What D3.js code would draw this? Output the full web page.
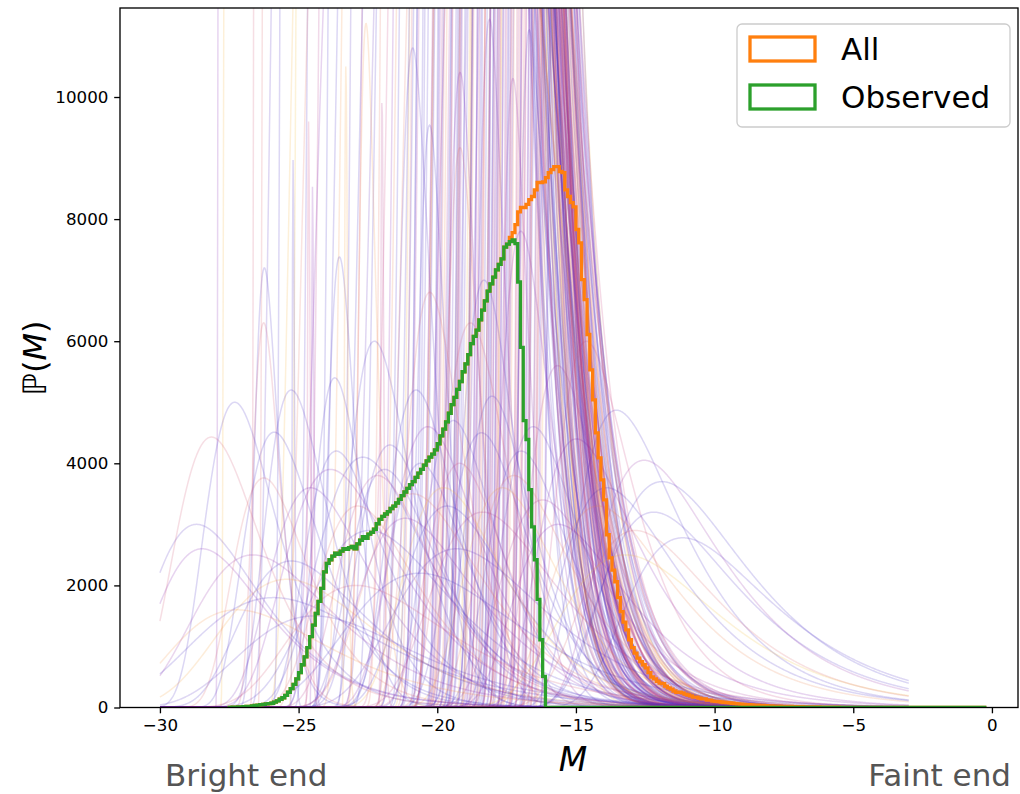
<!DOCTYPE html>
<html>
<head>
<meta charset="utf-8">
<title>Magnitude distribution</title>
<script src="https://d3js.org/d3.v7.min.js"></script>
<style>
  body { margin: 0; background: #fff; }
  svg text { font-family: "DejaVu Sans", sans-serif; }
</style>
</head>
<body>
<div id="chart"></div>
<script>
// histogram bins in absolute magnitude M
var binStart = -27.5, binWidth = 0.1, binEnd = -0.2;

// counts per bin, starting at binStart (missing bins are empty)
var observedCounts = [
  3, 5, 6, 8, 10, 12, 16, 20, 26, 34, 40, 46, 52, 58, 64,
  70, 88, 110, 135, 160, 200, 250, 310, 380, 470,
  570, 700, 830, 980, 1160, 1350, 1540, 1740, 1950, 2220,
  2360, 2420, 2480, 2530, 2510, 2560, 2600, 2590, 2620, 2640,
  2600, 2680, 2740, 2800, 2770, 2840, 2870, 2920, 3010, 3080,
  3130, 3170, 3210, 3260, 3300, 3350, 3410, 3470, 3530, 3590,
  3650, 3700, 3770, 3840, 3900, 3970, 4040, 4100, 4150, 4220,
  4320, 4450, 4560, 4680, 4820, 4960, 5080, 5210, 5340, 5500,
  5630, 5780, 5960, 6080, 6180, 6350, 6510, 6660, 6820, 6940,
  7050, 7170, 7260, 7350, 7540, 7590, 7630, 7660, 7600,
  6970, 5900, 4700, 4390, 3570, 2960, 2420, 1770, 1110, 510
];
var allCounts = [
  3, 5, 6, 8, 10, 12, 16, 20, 26, 34, 40, 46, 52, 58, 64,
  70, 88, 110, 135, 160, 200, 250, 310, 380, 470,
  570, 700, 830, 980, 1160, 1350, 1540, 1740, 1950, 2220,
  2360, 2420, 2480, 2530, 2510, 2560, 2600, 2590, 2620, 2640,
  2600, 2680, 2740, 2800, 2770, 2840, 2870, 2920, 3010, 3080,
  3130, 3170, 3210, 3260, 3300, 3350, 3410, 3470, 3530, 3590,
  3650, 3700, 3770, 3840, 3900, 3970, 4040, 4100, 4150, 4220,
  4320, 4450, 4560, 4680, 4820, 4960, 5080, 5210, 5340, 5500,
  5630, 5780, 5960, 6080, 6180, 6350, 6510, 6660, 6820, 6940,
  7050, 7170, 7260, 7350, 7540, 7590,
  7700, 7780, 7910, 8120, 8190, 8190, 8240, 8320, 8370, 8480,
  8600, 8600, 8610, 8680, 8760, 8810, 8860, 8860, 8780, 8760,
  8480, 8370, 8270, 8200, 7830, 7610, 7010, 6680, 6110, 5530,
  5040, 4500, 4090, 3730, 3400, 2830, 2450, 2250, 2060, 1800,
  1570, 1400, 1270, 1110, 980, 890, 810, 750, 700, 650,
  570, 500, 470, 430, 400, 390, 350, 320, 300, 270,
  250, 250, 240, 220, 205, 190, 170, 170, 155, 140,
  140, 120, 120, 105, 100, 95, 90, 85, 80, 75,
  70, 65, 60, 55, 50, 48, 45, 42, 40, 38,
  35, 33, 30, 28, 26, 24, 22, 21, 20, 18,
  17, 16, 15, 14, 13, 12, 11, 10, 10, 9,
  8, 8, 7, 6, 6, 5, 5, 4, 4, 3, 3, 3, 2, 2
];
var seriesNames = ["All", "Observed"];

// faint model curves: bright-end rise, faint-end fall, peak height, colour tone
var curveRange = [-30, -3];
var curveRise = [
  // tall curves
  -27.9, -27.7, -26.6, -26.3, -25.6, -25.1, -24.6, -24.2, -23.8, -23.4,
  -23.0, -22.6, -22.2, -21.9, -21.5, -21.2, -20.9, -20.6, -20.3, -20.0,
  -19.8, -19.5, -19.3, -19.0, -18.8, -18.6, -18.4, -18.2, -18.0, -17.8,
  -17.6, -17.4, -17.2, -17.0, -16.8, -16.6, -16.4, -16.2, -16.0, -18.5,
  -19.9, -22.8, -24.9, -17.9, -16.9,
  -21.0, -20.8, -20.5, -20.2, -19.9, -19.7, -19.6, -19.4, -19.2, -19.1,
  -18.9, -18.7, -18.6, -18.5, -18.3, -18.1, -17.9, -17.8, -17.7, -17.5,
  -17.45, -17.3, -17.2, -17.1, -16.95, -16.85, -16.7, -16.55, -16.45, -16.3,
  -16.25, -16.15, -16.05, -17.65, -18.25, -18.95, -19.55, -20.05, -21.3, -22.4,
  -23.6, -24.4, -25.3, -26.0, -21.7, -20.7, -19.0, -17.15, -16.5, -17.95,
  -20.4, -20.1, -19.85, -19.65, -19.45, -19.3, -19.15, -18.95, -18.8, -18.65,
  -18.55, -18.45, -18.35, -18.15, -18.05, -17.95, -17.85, -17.75, -17.6, -17.55,
  -17.4, -17.35, -17.25, -17.05, -16.9, -16.8, -16.75, -16.6, -16.4, -16.35,
  -19.95, -19.75, -19.05, -18.75, -18.05, -17.7, -17.0, -16.65, -20.6, -21.4,
  // peaked curves
  -26.49, -26.54, -25.22, -24.67, -24.52, -23.81, -24.27, -18.40, -16.94, -19.45,
  -22.73, -20.56, -19.52, -17.56, -21.23, -22.02, -23.32,
  // broad curves
  -28.02, -28.93, -26.74, -27.04, -29.79, -28.01, -26.63, -27.35, -25.72,
  -23.79, -23.18, -22.56, -22.13, -21.23, -20.77, -19.96, -19.26, -18.68, -17.89,
  -17.34, -23.81, -25.11, -21.50, -19.47,
  -14.87, -14.10, -13.61, -12.96, -15.68, -16.22, -14.93, -15.54,
  -24.56, -24.02, -22.93, -22.53, -21.46, -20.92, -20.22, -19.80, -18.77, -18.38,
  -17.46, -17.01, -26.70, -28.93, -26.04, -24.63, -22.24, -15.36, -14.47, -13.89,
  -16.52, -18.88, -20.90, -22.95, -17.56, -25.95, -29.59, -20.88
];
var curveRiseWidth = [
  0.04, 0.05, 0.06, 0.08, 0.15, 0.12, 0.25, 0.3, 0.3, 0.35,
  0.3, 0.35, 0.4, 0.3, 0.35, 0.4, 0.3, 0.35, 0.3, 0.4,
  0.3, 0.35, 0.3, 0.3, 0.35, 0.25, 0.3, 0.25, 0.3, 0.2,
  0.25, 0.2, 0.25, 0.2, 0.2, 0.15, 0.2, 0.15, 0.15, 0.45,
  0.5, 0.45, 0.4, 0.3, 0.25,
  0.35, 0.3, 0.4, 0.3, 0.45, 0.3, 0.35, 0.25, 0.4, 0.3,
  0.35, 0.3, 0.25, 0.4, 0.3, 0.35, 0.25, 0.3, 0.2, 0.3,
  0.25, 0.2, 0.3, 0.25, 0.2, 0.25, 0.15, 0.2, 0.15, 0.2,
  0.15, 0.15, 0.12, 0.3, 0.35, 0.4, 0.3, 0.45, 0.4, 0.5,
  0.45, 0.5, 0.4, 0.35, 0.5, 0.45, 0.4, 0.3, 0.25, 0.35,
  0.3, 0.35, 0.25, 0.3, 0.35, 0.3, 0.25, 0.3, 0.35, 0.25,
  0.3, 0.2, 0.3, 0.25, 0.3, 0.2, 0.25, 0.3, 0.2, 0.25,
  0.2, 0.25, 0.2, 0.2, 0.15, 0.2, 0.15, 0.15, 0.12, 0.15,
  0.4, 0.3, 0.35, 0.3, 0.25, 0.2, 0.2, 0.15, 0.35, 0.4,
  0.3, 0.35, 0.03, 0.03, 0.03, 0.35, 0.6, 0.35, 0.3, 0.4,
  0.25, 0.35, 0.4, 0.3, 0.4, 0.04, 0.05,
  1.0, 1.3, 0.9, 1.0, 1.5, 2.0, 2.5, 3.0, 1.2,
  1.5, 1.2, 1.0, 1.5, 1.2, 1.4, 1.1, 1.0, 1.2, 1.0,
  1.3, 2.0, 1.4, 0.9, 0.9,
  1.0, 1.2, 1.5, 1.5, 1.3, 1.0, 2.0, 0.8,
  0.9, 1.2, 1.0, 1.3, 1.0, 1.2, 0.9, 1.5, 0.8, 1.0,
  0.9, 1.2, 1.5, 2.0, 2.5, 2.0, 2.5, 1.2, 1.5, 1.4,
  0.8, 0.7, 0.7, 0.8, 0.6, 0.8, 1.5, 2.0
];
var curveFall = [
  -17.34, -16.29, -17.27, -16.23, -17.51, -16.34, -16.76, -17.04, -17.40, -16.13,
  -17.67, -16.75, -16.73, -16.67, -17.23, -16.95, -16.54, -17.05, -17.14, -16.43,
  -17.43, -16.97, -16.64, -16.96, -17.23, -16.74, -16.87, -17.47, -16.63, -16.55,
  -17.12, -16.67, -16.76, -16.45, -16.50, -16.30, -16.10, -15.90, -15.80, -15.87,
  -16.38, -16.17, -15.98, -16.28, -16.60,
  -17.13, -17.29, -17.31, -15.97, -17.47, -17.04, -16.88, -17.40, -17.40, -15.50,
  -17.99, -16.39, -17.84, -16.53, -17.15, -17.10, -16.91, -16.62, -17.07, -16.77,
  -17.10, -16.58, -16.90, -16.44, -16.65, -16.48, -16.40, -16.25, -16.15, -16.00,
  -15.95, -15.85, -15.80, -16.59, -16.65, -17.29, -16.24, -17.74, -15.85, -15.83,
  -17.23, -15.74, -16.52, -16.28, -17.08, -17.20, -16.87, -16.85, -16.20, -16.42,
  -17.46, -16.62, -17.24, -16.57, -16.93, -16.97, -17.27, -17.71, -16.50, -17.20,
  -17.57, -16.38, -17.24, -16.72, -17.40, -17.16, -16.92, -17.35, -16.82, -16.68,
  -16.93, -16.62, -16.64, -16.70, -16.60, -16.50, -16.45, -16.30, -16.10, -16.05,
  -17.33, -17.11, -17.05, -16.40, -16.93, -16.73, -16.65, -16.35, -16.82, -16.96,
  -26.49, -26.54, -25.22, -24.67, -24.52, -23.81, -24.27, -18.40, -16.94, -19.45,
  -22.73, -20.56, -19.52, -17.56, -21.23, -22.02, -23.32,
  -28.02, -28.93, -26.74, -27.04, -29.79, -28.01, -26.63, -27.35, -25.72,
  -23.79, -23.18, -22.56, -22.13, -21.23, -20.77, -19.96, -19.26, -18.68, -17.89,
  -17.34, -23.81, -25.11, -21.50, -19.47,
  -14.87, -14.10, -13.61, -12.96, -15.68, -16.22, -14.93, -15.54,
  -24.56, -24.02, -22.93, -22.53, -21.46, -20.92, -20.22, -19.80, -18.77, -18.38,
  -17.46, -17.01, -26.70, -28.93, -26.04, -24.63, -22.24, -15.36, -14.47, -13.89,
  -16.52, -18.88, -20.90, -22.95, -17.56, -25.95, -29.59, -20.88
];
var curveFallWidth = [
  0.7, 0.6, 0.8, 0.6, 0.7, 0.5, 0.8, 0.7, 0.9, 0.6,
  0.8, 0.7, 0.9, 0.6, 0.8, 0.7, 0.6, 0.9, 0.7, 0.8,
  0.6, 0.9, 0.7, 0.8, 0.6, 0.7, 0.9, 0.8, 0.6, 0.7,
  0.9, 0.6, 0.8, 0.7, 0.8, 0.7, 0.9, 0.6, 0.8, 1.0,
  1.1, 1.0, 1.1, 1.0, 1.1,
  0.9, 1.2, 0.7, 1.0, 0.8, 1.3, 0.6, 1.1, 0.9, 0.7,
  1.2, 0.8, 1.0, 0.6, 0.9, 1.1, 0.7, 1.3, 0.8, 1.0,
  0.6, 1.2, 0.9, 0.7, 1.1, 0.8, 1.0, 0.6, 1.2, 0.9,
  0.7, 1.0, 0.8, 1.1, 0.9, 1.3, 0.7, 1.0, 1.2, 0.8,
  1.1, 0.9, 1.3, 1.0, 0.8, 1.2, 0.9, 1.1, 0.7, 1.0,
  0.8, 1.0, 0.7, 0.9, 1.1, 0.8, 1.0, 0.7, 0.9, 1.2,
  0.8, 1.0, 0.7, 0.9, 1.1, 0.8, 1.0, 0.7, 0.9, 1.2,
  0.8, 1.0, 0.7, 0.9, 1.1, 0.8, 1.0, 0.7, 0.9, 1.2,
  0.8, 1.0, 0.7, 0.9, 1.1, 0.8, 1.0, 0.7, 0.9, 1.2,
  0.45, 0.5, 0.04, 0.05, 0.04, 0.5, 1.0, 0.5, 0.45, 0.5,
  0.3, 0.5, 0.6, 0.5, 0.6, 0.05, 0.05,
  1.3, 1.5, 1.5, 1.4, 2.0, 2.5, 2.5, 3.0, 2.0,
  2.0, 1.8, 1.5, 2.2, 1.6, 2.0, 1.4, 1.5, 1.8, 1.6,
  2.0, 2.5, 2.2, 1.3, 1.2,
  2.4, 2.8, 3.0, 3.2, 2.6, 2.2, 3.0, 1.6,
  1.6, 2.0, 1.8, 2.4, 1.5, 2.0, 1.4, 2.5, 1.3, 2.0,
  1.6, 2.4, 2.5, 3.0, 3.0, 3.0, 3.0, 2.6, 2.8, 3.0,
  1.5, 1.0, 1.1, 1.2, 1.0, 1.2, 2.0, 2.8
];
var curvePeak = [
  40000, 30000, 50000, 35000, 60000, 30000, 45000, 40000, 55000, 35000,
  50000, 45000, 30000, 60000, 40000, 50000, 45000, 35000, 55000, 40000,
  50000, 45000, 30000, 60000, 50000, 40000, 45000, 55000, 35000, 50000,
  40000, 60000, 45000, 50000, 20000, 22000, 18000, 16000, 15000, 25000,
  20000, 25000, 20000, 30000, 25000,
  30000, 45000, 60000, 25000, 50000, 35000, 70000, 40000, 55000, 20000,
  45000, 30000, 65000, 50000, 35000, 40000, 60000, 25000, 55000, 45000,
  50000, 30000, 50000, 40000, 25000, 35000, 22000, 20000, 18000, 16000,
  17000, 15000, 14000, 35000, 25000, 40000, 30000, 55000, 20000, 25000,
  30000, 20000, 25000, 30000, 35000, 40000, 45000, 30000, 19000, 35000,
  45000, 35000, 55000, 40000, 30000, 50000, 45000, 60000, 35000, 40000,
  50000, 30000, 55000, 45000, 40000, 60000, 35000, 50000, 45000, 30000,
  40000, 35000, 30000, 25000, 20000, 22000, 18000, 17000, 15000, 16000,
  40000, 50000, 45000, 35000, 30000, 40000, 25000, 18000, 45000, 35000,
  7200, 6300, 8970, 9600, 8530, 7380, 5400, 11270, 11100, 10400,
  11200, 9540, 9170, 10300, 10800, 9900, 10500,
  5000, 4430, 4510, 3760, 3000, 2500, 2100, 1800, 3600,
  4100, 3800, 4300, 3500, 4600, 3300, 4000, 4500, 3600, 4200,
  3400, 2900, 3900, 5200, 6300,
  4870, 4050, 3700, 2780, 3300, 4400, 2500, 6000,
  4200, 3300, 3900, 3100, 4000, 3600, 4700, 3200, 5100, 3800,
  4600, 3000, 2400, 1600, 1500, 2000, 2200, 3600, 2900, 3200,
  5600, 7000, 6800, 6000, 7800, 5200, 2600, 2600
];
var curveTone = [
  0.30, 0.85, 0.55, 0.60, 0.05, 0.90, 0.08, 0.45, 0.03, 0.75,
  0.10, 0.50, 0.05, 0.65, 0.30, 0.02, 0.85, 0.40, 0.08, 0.55,
  0.05, 0.70, 0.10, 0.45, 0.03, 0.60, 0.30, 0.06, 0.80, 0.25,
  0.50, 0.35, 0.04, 0.55, 0.40, 0.08, 0.60, 0.45, 0.05, 0.12,
  0.35, 0.02, 0.65, 0.05, 0.50,
  0.05, 0.60, 0.10, 0.30, 0.85, 0.02, 0.45, 0.08, 0.65, 0.12,
  0.35, 0.05, 0.75, 0.20, 0.08, 0.55, 0.02, 0.40, 0.10, 0.90,
  0.05, 0.50, 0.15, 0.70, 0.03, 0.35, 0.08, 0.60, 0.12, 0.45,
  0.05, 0.80, 0.25, 0.10, 0.55, 0.02, 0.40, 0.07, 0.65, 0.15,
  0.05, 0.30, 0.85, 0.10, 0.50, 0.03, 0.70, 0.20, 0.08, 0.40,
  0.05, 0.45, 0.10, 0.60, 0.03, 0.35, 0.08, 0.55, 0.12, 0.75,
  0.05, 0.50, 0.20, 0.65, 0.04, 0.40, 0.55, 0.08, 0.60, 0.30,
  0.50, 0.05, 0.55, 0.45, 0.60, 0.50, 0.35, 0.55, 0.45, 0.65,
  0.08, 0.30, 0.05, 0.85, 0.10, 0.50, 0.55, 0.40, 0.05, 0.70,
  0.05, 0.55, 0.08, 0.50, 0.30, 0.03, 0.06, 0.25, 0.04, 0.30,
  0.75, 0.05, 0.60, 0.35, 0.10, 0.45, 0.80,
  0.05, 0.55, 0.03, 0.60, 0.10, 0.35, 0.80, 0.05, 0.25,
  0.04, 0.45, 0.08, 0.65, 0.30, 0.02, 0.50, 0.06, 0.80, 0.10,
  0.40, 0.05, 0.30, 0.03, 0.55,
  0.05, 0.35, 0.02, 0.08, 0.70, 0.30, 0.90, 0.50,
  0.05, 0.60, 0.10, 0.30, 0.05, 0.85, 0.08, 0.45, 0.02, 0.65,
  0.10, 0.30, 0.05, 0.75, 0.10, 0.55, 0.02, 0.05, 0.60, 0.08,
  0.40, 0.10, 0.60, 0.05, 0.30, 0.08, 0.30, 0.12
];

var xTicks = [-30, -25, -20, -15, -10, -5, 0];
var yTicks = [0, 2000, 4000, 6000, 8000, 10000];

var W = 1020, H = 794;
var plot = { left: 120, right: 1018, top: 8, bottom: 707.5 };

var svg = d3.select("#chart").append("svg")
  .attr("width", W)
  .attr("height", H);

var x = d3.scaleLinear().domain([-31.44, 0.94]).range([plot.left, plot.right]);
var y = d3.scaleLinear().domain([0, 11458]).range([plot.bottom, plot.top]);
var tone = d3.scaleLinear()
  .domain([0, 0.3, 0.5, 0.75, 1])
  .range(["#3a2ec8", "#7d1db0", "#c8407f", "#f39040", "#f0d828"]);

svg.append("clipPath").attr("id", "plotclip")
  .append("rect")
  .attr("x", plot.left).attr("y", plot.top)
  .attr("width", plot.right - plot.left)
  .attr("height", plot.bottom - plot.top);

var inner = svg.append("g").attr("clip-path", "url(#plotclip)");

// model curves
var grid = d3.range(curveRange[0], curveRange[1] + 1e-9, 0.02);
var line = d3.line()
  .x(function(d) { return x(d[0]); })
  .y(function(d) { return y(d[1]); });

curveRise.forEach(function(a, i) {
  var raw = grid.map(function(m) {
    var rise = Math.exp(-Math.exp(-(m - a) / curveRiseWidth[i]));
    var fall = 1 / (1 + Math.exp((m - curveFall[i]) / curveFallWidth[i]));
    return rise * fall;
  });
  var rawMax = d3.max(raw);
  var pts = grid.map(function(m, k) {
    return [m, Math.min(curvePeak[i] * raw[k] / rawMax, 14000)];
  });
  inner.append("path")
    .attr("d", line(pts))
    .attr("fill", "none")
    .attr("stroke", tone(curveTone[i]))
    .attr("stroke-opacity", 0.19)
    .attr("stroke-width", 1.5);
});

// step histograms
var nBins = Math.round((binEnd - binStart) / binWidth);
function stepPoints(counts) {
  var pts = [[binStart, 0]];
  for (var b = 0; b < nBins; b++) {
    var v = counts[b] || 0;
    var e0 = binStart + b * binWidth;
    pts.push([e0, v], [e0 + binWidth, v]);
  }
  pts.push([binEnd, 0]);
  return pts;
}

var histColors = ["#ff7f0e", "#2ca02c"];
[allCounts, observedCounts].forEach(function(c, k) {
  inner.append("path")
    .attr("d", line(stepPoints(c)))
    .attr("fill", "none")
    .attr("stroke", histColors[k])
    .attr("stroke-width", 3.3)
    .attr("stroke-linejoin", "miter");
});

// axes
var xAxis = d3.axisBottom(x).tickValues(xTicks).tickSize(5.8).tickPadding(5.8)
  .tickSizeOuter(0).tickFormat(d3.format("d"));
var yAxis = d3.axisLeft(y).tickValues(yTicks).tickSize(5.8).tickPadding(5.8)
  .tickSizeOuter(0).tickFormat(d3.format("d"));

var gx = svg.append("g").attr("transform", "translate(0," + plot.bottom + ")").call(xAxis);
var gy = svg.append("g").attr("transform", "translate(" + plot.left + ",0)").call(yAxis);
[gx, gy].forEach(function(g) {
  g.select(".domain").remove();
  g.selectAll(".tick line").attr("stroke", "#000").attr("stroke-width", 1.33);
  g.selectAll(".tick text").attr("fill", "#000")
    .style("font-family", "DejaVu Sans").style("font-size", "16.7px");
});

svg.append("rect")
  .attr("x", plot.left).attr("y", plot.top)
  .attr("width", plot.right - plot.left)
  .attr("height", plot.bottom - plot.top)
  .attr("fill", "none")
  .attr("stroke", "#000")
  .attr("stroke-width", 1.33);

// axis labels
svg.append("text")
  .attr("x", 573).attr("y", 771)
  .attr("text-anchor", "middle")
  .style("font-size", "33px")
  .style("font-style", "italic")
  .text("M");

var yl = svg.append("text")
  .attr("transform", "translate(46,358) rotate(-90)")
  .attr("text-anchor", "middle")
  .style("font-size", "32px");
yl.append("tspan").text("\u2119(");
yl.append("tspan").style("font-style", "italic").text("M");
yl.append("tspan").text(")");

svg.append("text")
  .attr("x", 165).attr("y", 786)
  .attr("fill", "#555")
  .style("font-size", "31px")
  .text("Bright end");
svg.append("text")
  .attr("x", 1011).attr("y", 786)
  .attr("text-anchor", "end")
  .attr("fill", "#555")
  .style("font-size", "31px")
  .text("Faint end");

// legend
var lg = svg.append("g").attr("transform", "translate(737,24)");
lg.append("rect")
  .attr("width", 273).attr("height", 103)
  .attr("rx", 5)
  .attr("fill", "#fff").attr("fill-opacity", 0.8)
  .attr("stroke", "#cccccc").attr("stroke-width", 1.3);
seriesNames.forEach(function(name, k) {
  var row = lg.append("g").attr("transform", "translate(0," + (k * 48) + ")");
  row.append("rect")
    .attr("x", 13).attr("y", 13)
    .attr("width", 65).attr("height", 24)
    .attr("fill", "none")
    .attr("stroke", histColors[k])
    .attr("stroke-width", 3.3);
  row.append("text")
    .attr("x", 104).attr("y", 25)
    .attr("dominant-baseline", "central")
    .style("font-size", "31px")
    .text(name);
});
</script>
</body>
</html>
